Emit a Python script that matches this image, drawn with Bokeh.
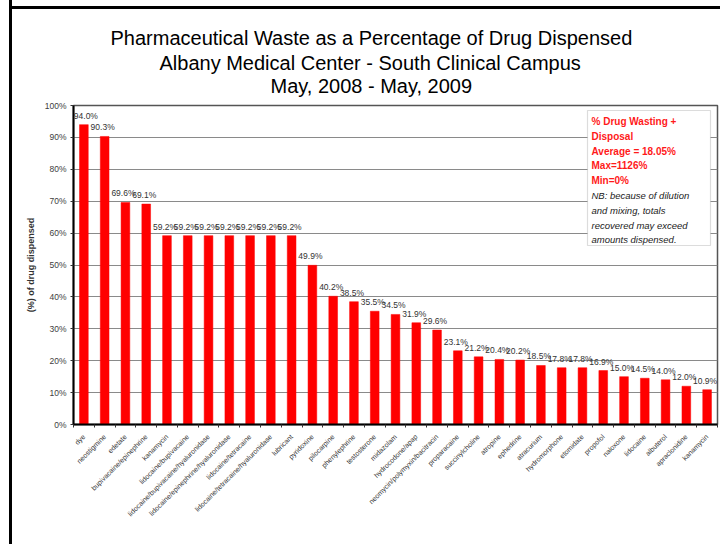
import numpy as np
from bokeh.plotting import figure
from bokeh.models import (Range1d, FixedTicker, ColumnDataSource, LabelSet, Title,
                          BoxAnnotation, Label, PrintfTickFormatter)
from bokeh.core.properties import value
from bokeh.embed import file_html
from bokeh.resources import INLINE

# ---------------- data ----------------
drugs = ["dye", "neostigmine", "edetate", "bupivacaine/epinephrine", "kanamycin",
         "lidocaine/bupivacaine", "lidocaine/bupivacaine/hyaluronidase",
         "lidocaine/epinephrine/hyaluronidase", "lidocaine/tetracaine",
         "lidocaine/tetracaine/hyaluronidase", "lubricant", "pyridoxine",
         "pilocarpine", "phenylephrine", "testosterone", "midazolam",
         "hydrocodone/apap", "neomycin/polymyxin/bacitracin", "proparacaine",
         "succinylcholine", "atropine", "ephedrine", "atracurium", "hydromorphone",
         "etomidate", "propofol", "naloxone", "lidocaine", "albuterol",
         "apraclonidine", "kanamycin"]
pct = [94.0, 90.3, 69.6, 69.1, 59.2, 59.2, 59.2, 59.2, 59.2, 59.2, 59.2, 49.9,
       40.2, 38.5, 35.5, 34.5, 31.9, 29.6, 23.1, 21.2, 20.4, 20.2, 18.5, 17.8,
       17.8, 16.9, 15.0, 14.5, 14.0, 12.0, 10.9]
y_ticks = [0, 10, 20, 30, 40, 50, 60, 70, 80, 90, 100]
title_lines = ["Pharmaceutical Waste as a Percentage of Drug Dispensed",
               "Albany Medical Center - South Clinical Campus",
               "May, 2008 - May, 2009"]
legend_red = ["% Drug Wasting + ", "Disposal", "Average = 18.05%", "Max=1126%", "Min=0%"]
legend_note = ["NB: because of dilution", "and mixing, totals",
               "recovered may exceed", "amounts dispensed."]

n = len(drugs)
xs = list(range(1, n + 1))
lbl_dx = [2 if i == 0 else -2 for i in range(n)]
src = ColumnDataSource(dict(x=xs, pct=pct, lbl=[f"{v:.1f}%" for v in pct], dx=lbl_dx))

FONT = "Liberation Sans"

frame_css = ("linear-gradient(#000, #000) 9px 0 / 3px 100% no-repeat, "
             "linear-gradient(#000, #000) 9px 6px / 100% 3px no-repeat, #fff")

p = figure(width=720, height=544, output_backend="svg", toolbar_location=None,
           x_range=Range1d(0.5, n + 0.5), y_range=Range1d(0, 100),
           min_border_left=73, min_border_right=3, min_border_top=105,
           min_border_bottom=120, styles={"background": frame_css})
p.title.visible = False
p.background_fill_color = "white"
p.border_fill_color = None
p.outline_line_color = "#555555"
p.outline_line_width = 1.5

# titles (first added = closest to plot); left-aligned with offsets so each
# line is centred where the reference centres it
for t, sd, off in zip(reversed(title_lines), [17, -18, 20], [197, 86, 37]):
    p.add_layout(Title(text=t, align="left", offset=off, standoff=sd,
                       text_font=FONT, text_font_size="20px",
                       text_font_style="normal", text_color="black"), "above")

# bars
p.vbar(x="x", top="pct", width=0.42, source=src, fill_color="#ff0000",
       line_color="#ff0000", line_width=0.5)

p.add_layout(LabelSet(x="x", y="pct", text="lbl", source=src, x_offset="dx", y_offset=6,
                      text_align="center", text_baseline="alphabetic",
                      text_font=value(FONT), text_font_size="8.5px",
                      text_color="#333333"))

# axes
p.xgrid.visible = False
p.ygrid.grid_line_color = "#8a8a8a"
p.ygrid.grid_line_width = 1
p.ygrid.ticker = FixedTicker(ticks=y_ticks)

p.xaxis.ticker = FixedTicker(ticks=xs, minor_ticks=[i + 0.5 for i in range(0, n + 1)])
p.xaxis.major_label_overrides = {i: d for i, d in zip(xs, drugs)}
p.xaxis.major_label_orientation = np.pi / 4
p.xaxis.major_tick_line_color = None
p.xaxis.minor_tick_line_color = "#333333"
p.xaxis.minor_tick_out = 3
p.xaxis.minor_tick_in = 0
p.xaxis.major_label_standoff = 5
p.xaxis.major_label_text_font = FONT
p.xaxis.major_label_text_font_size = "7px"
p.xaxis.major_label_text_color = "#333333"
p.xaxis.axis_line_color = "black"
p.xaxis.axis_line_width = 2

p.yaxis.ticker = FixedTicker(ticks=y_ticks)
p.yaxis.formatter = PrintfTickFormatter(format="%d%%")
p.yaxis.minor_tick_line_color = None
p.yaxis.major_tick_out = 3
p.yaxis.major_tick_in = 0
p.yaxis.major_tick_line_color = "#333333"
p.yaxis.major_label_standoff = 4
p.yaxis.major_label_text_font = FONT
p.yaxis.major_label_text_font_size = "8.5px"
p.yaxis.major_label_text_color = "#404040"
p.yaxis.axis_line_color = "black"
p.yaxis.axis_line_width = 2
p.yaxis.axis_label = "(%) of drug dispensed"
p.yaxis.axis_label_text_font = FONT
p.yaxis.axis_label_text_font_size = "9px"
p.yaxis.axis_label_text_font_style = "bold"
p.yaxis.axis_label_text_color = "#333333"
p.yaxis.axis_label_standoff = 6

# legend / note box (reference pixel geometry -> data coords)
def X(px):
    return 0.5 + (px - 73) / 644 * n

def Y(py):
    return (424 - py) / 319 * 100

p.add_layout(BoxAnnotation(left=X(587), right=X(710), top=Y(110), bottom=Y(245),
                           fill_color="white", fill_alpha=1.0,
                           line_color="#8a8a8a", line_width=1.2))
base = 121
for i, t in enumerate(legend_red):
    p.add_layout(Label(x=X(591), y=Y(base + 14.8 * i), text=t,
                       text_font=FONT, text_font_size="10px", text_font_style="bold",
                       text_color="#ff1a1a", text_baseline="alphabetic"))
for j, t in enumerate(legend_note):
    i = j + len(legend_red)
    p.add_layout(Label(x=X(591), y=Y(base + 14.8 * i), text=t,
                       text_font=FONT, text_font_size="9.5px", text_font_style="italic",
                       text_color="#222222", text_baseline="alphabetic"))

open("out.html", "w").write(file_html(p, INLINE))
